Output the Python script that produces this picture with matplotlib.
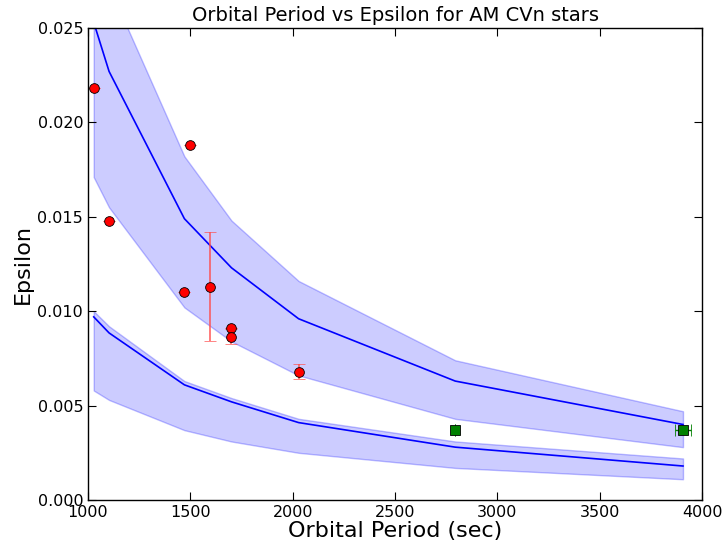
import matplotlib
matplotlib.use("Agg")
import matplotlib.pyplot as plt
import numpy as np

# model curves (period in s)
model_period = [1028, 1103, 1471, 1701, 2029, 2794, 3907]
upper_mid = [0.0253, 0.0227, 0.0149, 0.0123, 0.0096, 0.0063, 0.0040]
upper_hi = [0.0304, 0.0272, 0.0182, 0.0148, 0.0116, 0.0074, 0.0047]
upper_lo = [0.0171, 0.0155, 0.0102, 0.0084, 0.0066, 0.0043, 0.0028]
lower_mid = [0.0097, 0.00885, 0.0061, 0.0052, 0.0041, 0.0028, 0.0018]
lower_hi = [0.0100, 0.0092, 0.0063, 0.0054, 0.0043, 0.0031, 0.0022]
lower_lo = [0.0058, 0.0053, 0.0037, 0.0031, 0.0025, 0.0017, 0.0011]

# observed systems (red circles)
obs_period = [1028, 1103, 1471, 1500, 1596, 1701, 1701, 2029]
obs_eps = [0.0218, 0.0148, 0.0110, 0.0188, 0.0113, 0.0091, 0.00865, 0.0068]
obs_err = [0.0, 0.0, 0.0, 0.0, 0.0029, 0.0, 0.0004, 0.0004]

# green squares
sq_period = [2794, 3907]
sq_eps = [0.0037, 0.0037]
sq_xerr = [0, 40]

fig = plt.figure(figsize=(7.23, 5.5), dpi=100)
ax = fig.add_axes([0.1217, 0.0909, 0.8493, 0.8582])

for mid, hi, lo in [(upper_mid, upper_hi, upper_lo), (lower_mid, lower_hi, lower_lo)]:
    ax.fill_between(model_period, lo, hi, facecolor=(0, 0, 1, 0.2),
                    edgecolor=(0, 0, 1, 0.25), linewidth=1)
    ax.plot(model_period, mid, color='blue', lw=1.2)

ax.errorbar(obs_period, obs_eps, yerr=obs_err, fmt='o', color='red',
            ecolor=(1, 0.3, 0.3, 0.8), mec='black', mew=0.6, ms=7,
            capsize=4, elinewidth=1.3, capthick=1)
ax.errorbar(sq_period, sq_eps, xerr=sq_xerr, fmt='s', color='green',
            ecolor='green', mec='black', mew=0.6, ms=6.5,
            capsize=4, elinewidth=1, capthick=1)

ax.set_xlim(1000, 4000)
ax.set_ylim(0, 0.025)
ax.set_xticks([1000, 1500, 2000, 2500, 3000, 3500, 4000])
ax.set_yticks([0.0, 0.005, 0.010, 0.015, 0.020, 0.025])
ax.set_yticklabels(['0.000', '0.005', '0.010', '0.015', '0.020', '0.025'])
ax.tick_params(direction='in', top=True, right=True, length=6, labelsize=11.5)
for s in ax.spines.values():
    s.set_linewidth(1.0)
ax.set_title('Orbital Period vs Epsilon for AM CVn stars', fontsize=14, pad=5)
ax.set_xlabel('Orbital Period (sec)', fontsize=16, labelpad=1)
ax.set_ylabel('Epsilon', fontsize=16, labelpad=3)

fig.savefig('out.png', dpi=100)
